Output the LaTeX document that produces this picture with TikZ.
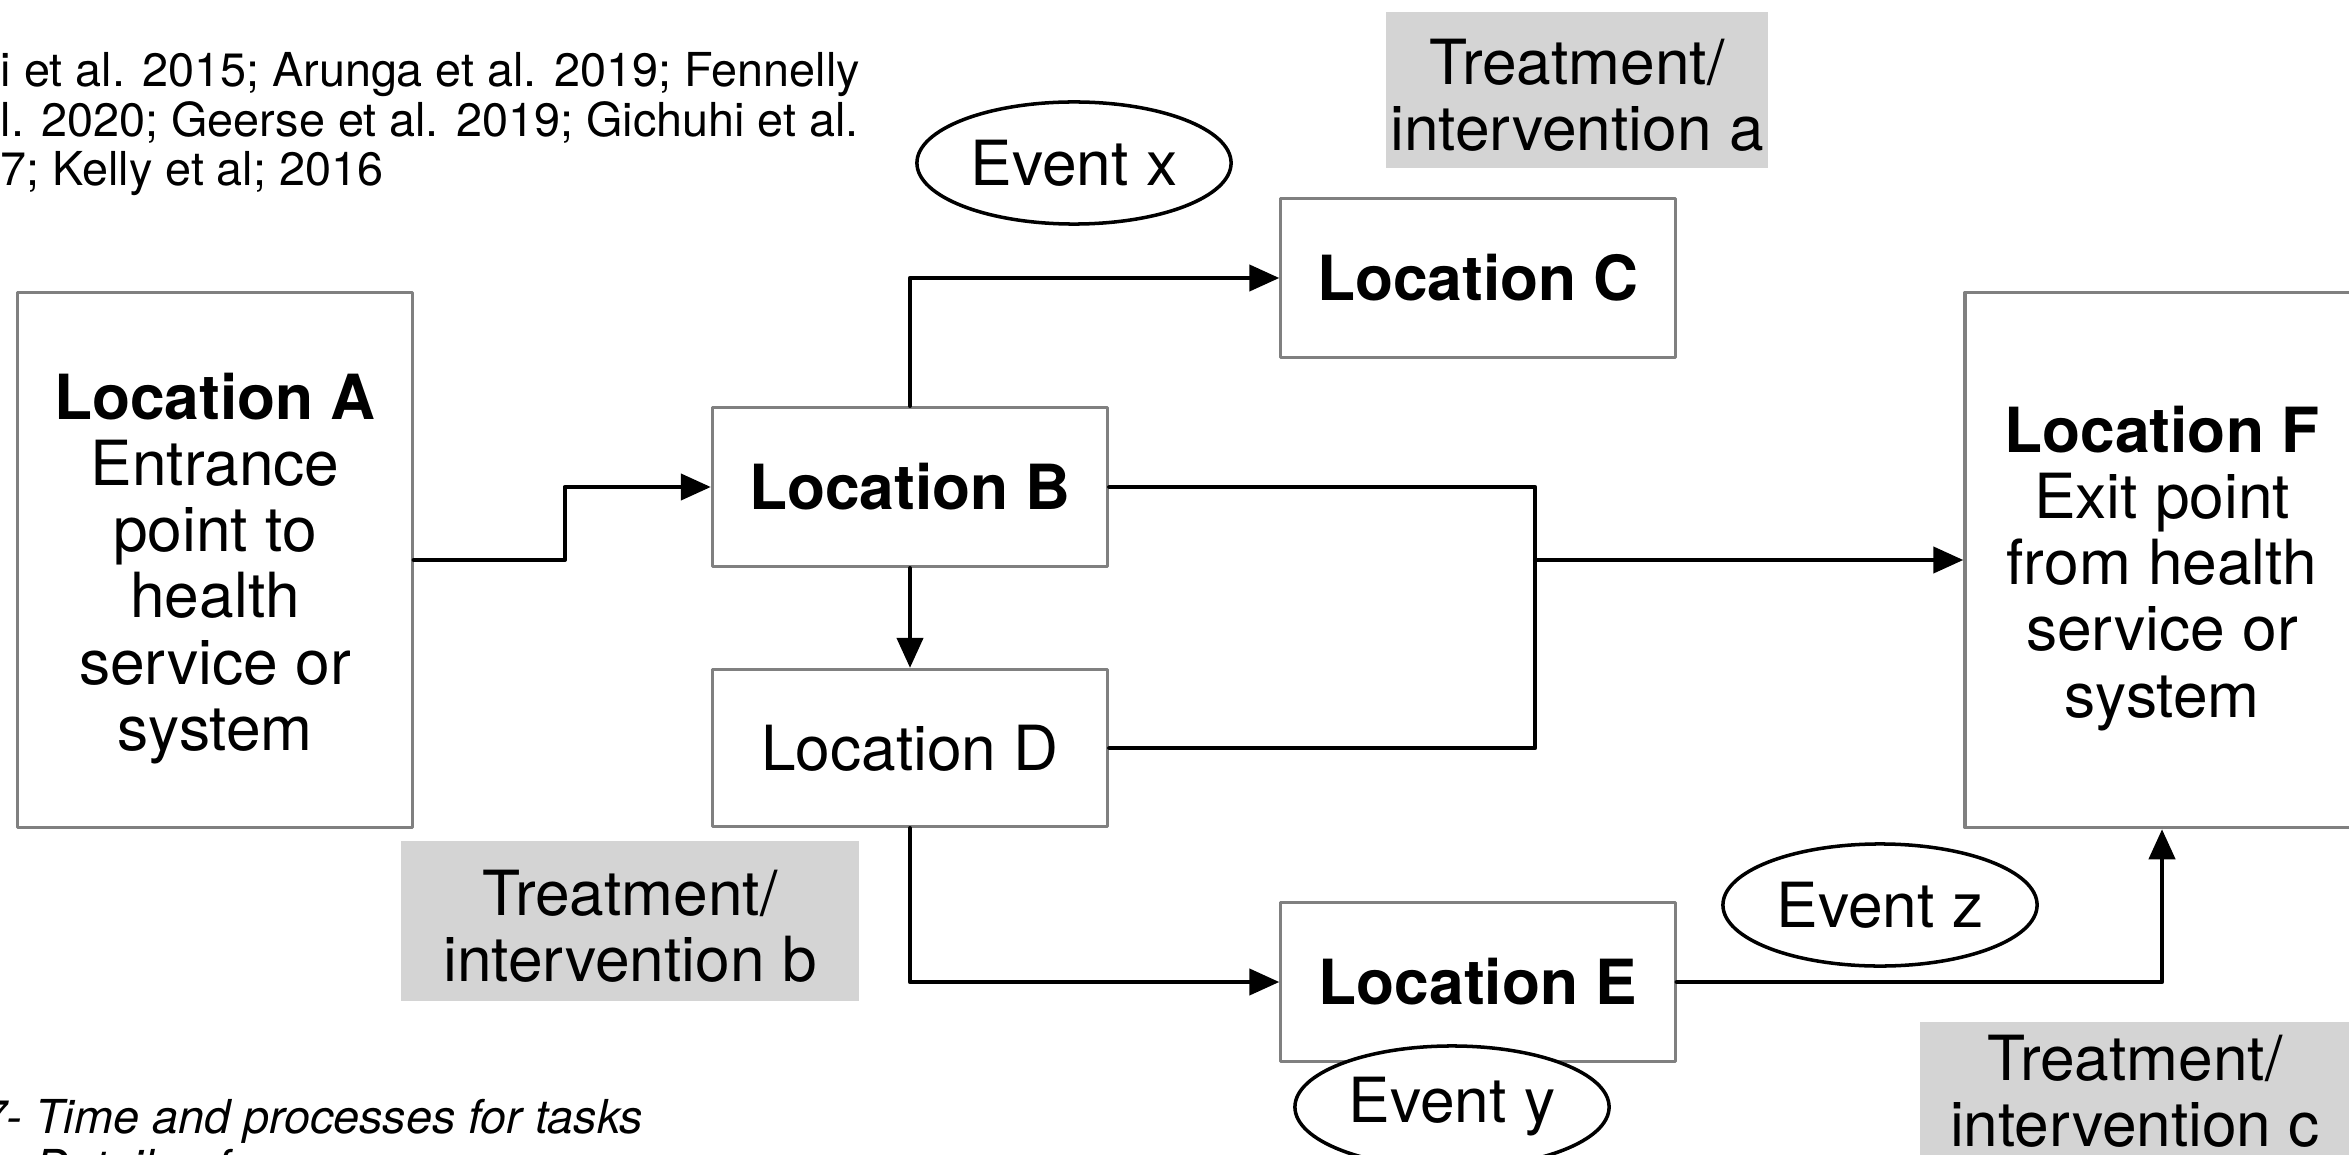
\documentclass[tikz,border=0pt]{standalone}
\usepackage{fontspec}
\setmainfont{TeX Gyre Heros}
\usetikzlibrary{arrows.meta, calc, shapes.geometric}

\begin{document}
\begin{tikzpicture}[line cap=round, line join=round, x=0.01cm, y=-0.01cm,
    loc/.style={draw=black!50, line width=0.9pt, fill=white, align=center, inner sep=0pt, font=\fontsize{17.7}{18.8}\selectfont},
    treat/.style={fill=black!17, align=center, inner sep=0pt, font=\fontsize{17.7}{18.8}\selectfont},
    event/.style={ellipse, draw=black, line width=1pt, fill=white, inner sep=0pt, minimum width=3.14cm, minimum height=1.22cm, font=\fontsize{17.7}{18.8}\selectfont},
    flow/.style={black, line width=1.2pt, -{Triangle[length=0.3cm, width=0.26cm]}}]
    \useasboundingbox (0,0) rectangle (2349,1155);
    \clip (0,0) rectangle (2349,1155);

    % Locations
    \draw (215,560) node[loc, minimum width=3.94cm, minimum height=5.35cm] (A) {\rule{0pt}{18pt}\textbf{Location A}\\Entrance\\point to\\health\\service or\\system};
    \draw (910,487) node[loc, minimum width=3.95cm, minimum height=1.59cm] (B) {\textbf{Location B}};
    \draw (1478,278) node[loc, minimum width=3.94cm, minimum height=1.59cm] (C) {\textbf{Location C}};
    \draw (910,748) node[loc, minimum width=3.95cm, minimum height=1.57cm] (D) {Location D};
    \draw (1478,982) node[loc, minimum width=3.94cm, minimum height=1.59cm] (E) {\textbf{Location E}};
    \draw (2162,560) node[loc, minimum width=3.94cm, minimum height=5.35cm] (F) {\rule{0pt}{18pt}\textbf{Location F}\\Exit point\\from health\\service or\\system};

    % Treatments
    \draw (1577,90) node[treat, minimum width=3.82cm, minimum height=1.56cm] (Ta) {\rule{0pt}{16pt}Treatment/\\intervention a};
    \draw (630,921) node[treat, minimum width=4.57cm, minimum height=1.59cm] (Tb) {\rule{0pt}{16pt}Treatment/\\intervention b};
    \draw (2135,1091) node[treat, minimum width=4.30cm, minimum height=1.38cm] (Tc) {Treatment/\\intervention c};

    % Edges
    \coordinate (J) at (1535,560);
    \draw[flow] (A.east) -- ++(151,0) |- (B.west);
    \draw[flow] (B.south) -- (D.north);
    \foreach \source/\target in {B.north/C.west, D.south/E.west} {
            \draw[flow] (\source) |- (\target);
        }
    \foreach \source in {B, D} {
            \draw[black, line width=1.2pt] (\source.east) -| (J);
        }
    \draw[flow] (J) -- (F.west);
    \draw[flow] (E.east) -| (F.south);

    % Events
    \draw (1074,163) node[event] (Ex) {Event x};
    \draw (1452,1107) node[event] (Ey) {Event y};
    \draw (1880,905) node[event] (Ez) {Event z};

    % Sources and notes
    \draw (0,52) node[anchor=north west, align=left, inner sep=0pt, font=\fontsize{13.3}{14.1}\selectfont] (refs) {i et al. 2015; Arunga et al. 2019; Fennelly\\l. 2020; Geerse et al. 2019; Gichuhi et al.\\7; Kelly et al; 2016};
    \draw (-20,1099) node[anchor=north west, align=left, inner sep=0pt, font=\fontsize{13.3}{14.1}\selectfont\itshape] (notes) {7- Time and processes for tasks\\\hphantom{7}- Details of};
\end{tikzpicture}
\end{document}
